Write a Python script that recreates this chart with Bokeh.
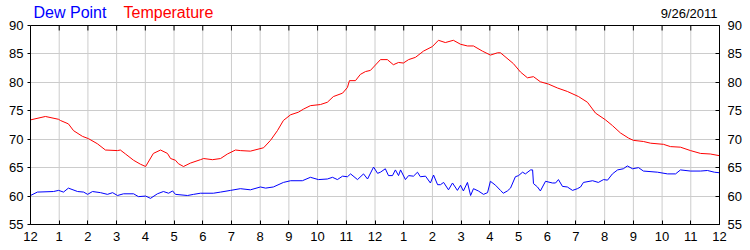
import math
from bokeh.plotting import figure
from bokeh.models import Range1d, FixedTicker, LinearAxis, Span
from bokeh.core.properties import value
from bokeh.embed import file_html
from bokeh.resources import INLINE

# ---- data -------------------------------------------------------------
temp_hours = [0.00, 0.52, 0.98, 1.04, 1.32, 1.50, 1.81, 2.02, 2.33, 2.61, 3.03, 3.13, 3.31, 3.59,
              3.83, 4.01, 4.28, 4.53, 4.77, 4.88, 5.05, 5.15, 5.33, 5.57, 5.92, 6.03, 6.34, 6.62,
              6.86, 7.14, 7.31, 7.66, 8.12, 8.36, 8.60, 8.81, 9.06, 9.33, 9.51, 9.75, 10.10, 10.34,
              10.55, 10.87, 11.04, 11.11, 11.32, 11.49, 11.67, 11.84, 12.19, 12.43, 12.64, 12.82,
              12.99, 13.17, 13.41, 13.69, 14.00, 14.21, 14.45, 14.73, 14.98, 15.22, 15.43, 15.74,
              16.02, 16.27, 16.37, 16.82, 17.07, 17.31, 17.52, 17.76, 18.04, 18.36, 18.70, 19.09,
              19.40, 19.68, 20.03, 20.27, 20.55, 20.83, 21.00, 21.35, 21.60, 22.05, 22.29, 22.64,
              22.99, 23.34, 23.68, 24.00]
temperature = [73.4, 74.0, 73.5, 73.3, 72.7, 71.5, 70.5, 70.1, 69.2, 68.1, 68.0, 68.1, 67.4, 66.3,
               65.6, 65.2, 67.5, 68.1, 67.5, 66.6, 66.3, 65.7, 65.2, 65.8, 66.4, 66.6, 66.4, 66.6,
               67.4, 68.1, 68.0, 67.9, 68.5, 69.8, 71.5, 73.3, 74.3, 74.75, 75.3, 75.9, 76.1, 76.5,
               77.5, 78.1, 79.1, 80.3, 80.3, 81.4, 81.9, 82.1, 84.0, 84.0, 83.1, 83.5,
               83.4, 84.0, 84.4, 85.5, 86.3, 87.4, 87.0, 87.4, 86.7, 86.4, 86.4, 85.5,
               84.8, 85.2, 85.2, 83.3, 81.8, 80.8, 81.0, 80.1, 79.7, 79.0, 78.4, 77.5,
               76.5, 74.6, 73.4, 72.4, 71.1, 70.2, 69.8, 69.6, 69.3, 69.1, 68.7, 68.6,
               68.0, 67.5, 67.4, 67.1]

dew_hours = [0.00, 0.24, 0.80, 0.98, 1.15, 1.32, 1.64, 1.85, 1.99, 2.16, 2.44, 2.68, 2.86, 3.03,
             3.24, 3.59, 3.76, 4.01, 4.18, 4.42, 4.63, 4.81, 4.95, 5.05, 5.47, 5.68, 5.92, 6.37,
             6.62, 6.97, 7.31, 7.66, 8.01, 8.19, 8.46, 8.81, 9.06, 9.47, 9.75, 10.03, 10.34, 10.52,
             10.69, 10.87, 11.04, 11.15, 11.39, 11.60, 11.74, 11.95, 12.09, 12.19, 12.36, 12.47,
             12.61, 12.71, 12.82, 12.89, 13.06, 13.17, 13.34, 13.48, 13.58, 13.76, 13.93, 14.04,
             14.18, 14.28, 14.39, 14.56, 14.70, 14.87, 14.98, 15.08, 15.22, 15.33, 15.43, 15.60,
             15.78, 15.92, 16.02, 16.20, 16.37, 16.47, 16.61, 16.72, 16.89, 17.00, 17.14, 17.24,
             17.42, 17.49, 17.52, 17.66, 17.76, 17.94, 18.18, 18.29, 18.39, 18.53, 18.70, 18.88,
             19.05, 19.16, 19.26, 19.58, 19.78, 19.96, 20.10, 20.27, 20.45, 20.65, 20.79, 20.97,
             21.18, 21.35, 21.84, 22.19, 22.47, 22.64, 22.99, 23.34, 23.58, 23.82, 24.00]
dew_point = [60.1, 60.7, 60.8, 61.0, 60.7, 61.4, 60.8, 60.7, 60.3, 60.8, 60.6, 60.3, 60.6, 60.1,
             60.4, 60.4, 59.9, 60.0, 59.6, 60.4, 60.8, 60.5, 60.9, 60.3, 60.1, 60.3, 60.5, 60.5,
             60.7, 61.0, 61.3, 61.1, 61.6, 61.4, 61.6, 62.4, 62.7, 62.7, 63.3, 62.9, 63.0, 63.3,
             62.9, 63.5, 63.4, 63.9, 62.9, 63.9, 63.0, 65.1, 64.0, 64.2, 64.8, 63.6,
             63.6, 64.6, 63.6, 64.6, 62.9, 63.6, 63.5, 64.2, 63.4, 63.5, 62.3, 63.7,
             62.0, 62.0, 62.4, 61.1, 62.3, 61.0, 61.9, 60.9, 62.4, 60.1, 61.3, 60.9,
             60.3, 60.6, 62.6, 61.9, 61.0, 60.5, 60.9, 61.4, 63.4, 63.6, 64.2, 63.9,
             64.6, 64.6, 62.2, 61.6, 60.9, 62.6, 62.3, 62.3, 62.9, 61.7, 61.6, 61.0,
             61.3, 61.6, 62.4, 62.7, 62.4, 62.9, 62.8, 63.9, 64.6, 64.8, 65.3, 64.8,
             65.0, 64.4, 64.2, 63.9, 63.9, 64.6, 64.4, 64.4, 64.5, 64.2, 64.1]

hour_ticks = list(range(0, 25))
hour_labels = ["12", "1", "2", "3", "4", "5", "6", "7", "8", "9", "10", "11",
               "12", "1", "2", "3", "4", "5", "6", "7", "8", "9", "10", "11", "12"]
value_ticks = [55, 60, 65, 70, 75, 80, 85, 90]
series_names = ["Dew Point", "Temperature"]
date_text = "9/26/2011"

FONT = "Liberation Sans"
BLUE = "#0000ff"
RED = "#ff0000"
GRID = "#cccccc"

# ---- layout geometry ----------------------------------------------------
W, H = 750, 250
BORDER_L, BORDER_R, BORDER_B = 30, 31, 26
PLOT_H = 199                      # pixel height of the 55..90 area
HEADER_H = 25                     # strip above it holding the legend texts
y_lo, y_hi = value_ticks[0], value_ticks[-1]
px_per_unit = PLOT_H / (y_hi - y_lo)
y_top = y_hi + HEADER_H / px_per_unit
frame_w = W - BORDER_L - BORDER_R
px_per_hour = frame_w / (hour_ticks[-1] - hour_ticks[0])


def hx(px):       # pixel offset from the left plot edge -> hours
    return px / px_per_hour


def vy(px):       # pixel offset above the 90 line -> value units
    return y_hi + px / px_per_unit


p = figure(width=W, height=H, output_backend="svg", toolbar_location=None,
           x_range=Range1d(hour_ticks[0], hour_ticks[-1]), y_range=Range1d(y_lo, y_top),
           x_axis_location=None, y_axis_location=None,
           min_border_left=BORDER_L, min_border_right=BORDER_R, min_border_top=0,
           min_border_bottom=BORDER_B,
           background_fill_color="white", border_fill_color="white")
p.outline_line_color = None

label_over = {t: l for t, l in zip(hour_ticks, hour_labels)}


def style_axis(ax, tick_in, tick_out, standoff):
    ax.axis_line_color = "black"
    ax.major_tick_line_color = "black"
    ax.major_tick_in = tick_in
    ax.major_tick_out = tick_out
    ax.minor_tick_line_color = None
    ax.major_label_standoff = standoff
    ax.major_label_text_font = FONT
    ax.major_label_text_font_size = "13px"
    ax.major_label_text_color = "black"


xb = LinearAxis(ticker=FixedTicker(ticks=hour_ticks), major_label_overrides=label_over)
style_axis(xb, 4, 0, 7)
p.add_layout(xb, "below")
yl = LinearAxis(ticker=FixedTicker(ticks=value_ticks), bounds=(y_lo, y_hi))
style_axis(yl, 0, 3, 4)
p.add_layout(yl, "left")
yr = LinearAxis(ticker=FixedTicker(ticks=value_ticks), bounds=(y_lo, y_hi))
style_axis(yr, 4, 0, 8)
p.add_layout(yr, "right")

# horizontal grid from the library; vertical grid limited to 55..90
p.xgrid.visible = False
p.ygrid.ticker = FixedTicker(ticks=value_ticks)
p.ygrid.grid_line_color = GRID
p.ygrid.grid_line_width = 1
p.segment(x0=hour_ticks, y0=[y_lo] * len(hour_ticks), x1=hour_ticks, y1=[y_hi] * len(hour_ticks),
          line_color=GRID, line_width=1)

# top edge of the plot box with inward tick marks
p.add_layout(Span(location=y_hi, dimension="width", line_color="black", line_width=1))
p.ray(x=hour_ticks, y=[y_hi] * len(hour_ticks), length=5, length_units="screen",
      angle=-math.pi / 2, line_color="black", line_width=1)

p.line(dew_hours, dew_point, line_color=BLUE, line_width=1)
p.line(temp_hours, temperature, line_color=RED, line_width=1)

# legend texts and date in the strip above the box (vertically centred)
p.text(x=[hx(3)], y=[vy(HEADER_H - 12)], text=[series_names[0]], text_color=BLUE,
       text_font=value(FONT), text_font_size="16px", text_baseline="middle")
p.text(x=[hx(93)], y=[vy(HEADER_H - 12)], text=[series_names[1]], text_color=RED,
       text_font=value(FONT), text_font_size="16px", text_baseline="middle")
p.text(x=[hx(687)], y=[vy(HEADER_H - 12.5)], text=[date_text], text_color="black",
       text_font=value(FONT), text_font_size="13px", text_align="right", text_baseline="middle")

open("out.html", "w").write(file_html(p, INLINE))
